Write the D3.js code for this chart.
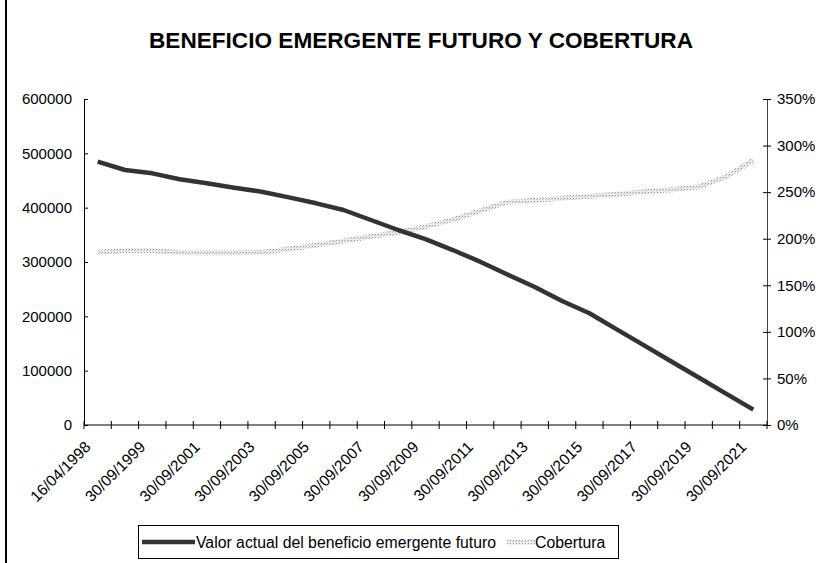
<!DOCTYPE html>
<meta charset="utf-8">
<style>
  body { margin: 0; background: #fff; }
  text { font-family: "Liberation Sans", Arial, sans-serif; fill: #000; }
</style>
<body>
<script src="https://d3js.org/d3.v7.min.js"></script>
<script>

var width = 821,
    height = 563;

// categories: first date, then every 30/09 until 2021
var categories = ["16/04/1998", "30/09/1998", "30/09/1999", "30/09/2000", "30/09/2001",
  "30/09/2002", "30/09/2003", "30/09/2004", "30/09/2005", "30/09/2006", "30/09/2007",
  "30/09/2008", "30/09/2009", "30/09/2010", "30/09/2011", "30/09/2012", "30/09/2013",
  "30/09/2014", "30/09/2015", "30/09/2016", "30/09/2017", "30/09/2018", "30/09/2019",
  "30/09/2020", "30/09/2021"];

var valorActual = [484600, 469300, 463200, 452200, 444800, 436800, 429400, 419000,
  408000, 395700, 377300, 358900, 342000, 322000, 300600, 277000, 254000, 228200,
  205600, 176100, 146500, 116900, 87400, 57800, 28200];

// cobertura in %
var cobertura = [185.5, 187.3, 187.3, 185.2, 184.8, 184.8, 185.2, 188.9, 193.2, 197.5,
  202.3, 206.9, 213.0, 220.5, 230.0, 239.2, 241.4, 243.5, 245.6, 247.8, 250.5, 252.6,
  255.8, 266.5, 284.5];

var leftTicks = [0, 100000, 200000, 300000, 400000, 500000, 600000];
var rightTicks = [0, 50, 100, 150, 200, 250, 300, 350];

var titleText = "BENEFICIO EMERGENTE FUTURO Y COBERTURA";
var seriesNames = ["Valor actual del beneficio emergente futuro", "Cobertura"];

var plot = {left: 84, right: 767, top: 99, bottom: 425};

var svg = d3.select("body").append("svg")
    .attr("width", width)
    .attr("height", height);

var defs = svg.append("defs");
var pat = defs.append("pattern")
    .attr("id", "dots")
    .attr("patternUnits", "userSpaceOnUse")
    .attr("width", 3)
    .attr("height", 3);
pat.append("rect").attr("width", 3).attr("height", 3).attr("fill", "#ececec");
pat.append("rect").attr("width", 1).attr("height", 1).attr("fill", "#959595");
pat.append("rect").attr("x", 2).attr("y", 1).attr("width", 1).attr("height", 1).attr("fill", "#bdbdbd");

// outer frame (only left edge is inside the picture)
svg.append("line")
    .attr("x1", 6).attr("x2", 6).attr("y1", 0).attr("y2", height)
    .attr("stroke", "#000").attr("stroke-width", 2);

svg.append("text")
    .attr("x", 421).attr("y", 48)
    .attr("text-anchor", "middle")
    .style("font-weight", "bold")
    .style("font-size", "22.6px")
    .text(titleText);

var x = d3.scaleBand()
    .domain(categories)
    .range([plot.left, plot.right])
    .padding(0);

var y = d3.scaleLinear()
    .domain([0, 600000])
    .range([plot.bottom, plot.top]);

var y2 = d3.scaleLinear()
    .domain([0, 350])
    .range([plot.bottom, plot.top]);

// left axis
var gl = svg.append("g").attr("transform", "translate(" + plot.left + ",0)")
    .call(d3.axisLeft(y).tickValues(leftTicks).tickFormat(d3.format("d"))
      .tickSizeInner(4).tickSizeOuter(0).tickPadding(8));
gl.selectAll(".tick line").attr("x2", 4);
gl.select(".domain").attr("stroke", "#000");
gl.selectAll("text").style("font-size", "15px").attr("font-family", null);

// right axis
var gr = svg.append("g").attr("transform", "translate(" + plot.right + ",0)")
    .call(d3.axisRight(y2).tickValues(rightTicks).tickFormat(function(d) { return d + "%"; })
      .tickSizeInner(4).tickSizeOuter(0).tickPadding(6));
gr.selectAll(".tick line").attr("x2", 4).attr("x1", -4);
gr.select(".domain").attr("stroke", "#444");
gr.selectAll("text").style("font-size", "15px").attr("font-family", null);

// bottom axis: tick marks on band edges
var edges = categories.map(function(c) { return x(c); }).concat([plot.right]);
svg.append("line")
    .attr("x1", plot.left).attr("x2", plot.right)
    .attr("y1", plot.bottom).attr("y2", plot.bottom)
    .attr("stroke", "#000");
svg.selectAll(".xtick").data(edges).enter().append("line")
    .attr("class", "xtick")
    .attr("x1", function(d) { return d; }).attr("x2", function(d) { return d; })
    .attr("y1", plot.bottom - 4).attr("y2", plot.bottom + 4)
    .attr("stroke", "#000");

svg.selectAll(".xlab").data(categories.filter(function(c, i) { return i % 2 === 0; }))
  .enter().append("text")
    .attr("class", "xlab")
    .attr("text-anchor", "end")
    .style("font-size", "15.5px")
    .attr("transform", function(d) {
      return "translate(" + (x(d) + x.bandwidth() / 2 - 6) + "," + (plot.bottom + 23) + ") rotate(-45)";
    })
    .text(function(d) { return d; });

var cx = function(d, i) { return x(categories[i]) + x.bandwidth() / 2; };

var lineCob = d3.line().x(cx).y(function(d) { return y2(d); });
var lineVal = d3.line().x(cx).y(function(d) { return y(d); });

svg.append("path")
    .datum(cobertura)
    .attr("d", lineCob)
    .attr("fill", "none")
    .attr("stroke", "url(#dots)")
    .attr("stroke-width", 5);

svg.append("path")
    .datum(valorActual)
    .attr("d", lineVal)
    .attr("fill", "none")
    .attr("stroke", "#333")
    .attr("stroke-width", 4.5)
    .attr("stroke-linejoin", "round");

// legend
var lg = svg.append("g");
lg.append("rect")
    .attr("x", 138.5).attr("y", 525.5)
    .attr("width", 480).attr("height", 33)
    .attr("fill", "#fff").attr("stroke", "#000");
lg.append("line")
    .attr("x1", 142).attr("x2", 195).attr("y1", 542).attr("y2", 542)
    .attr("stroke", "#333").attr("stroke-width", 4.5);
lg.append("text")
    .attr("x", 196).attr("y", 547.5)
    .style("font-size", "15.8px")
    .text(seriesNames[0]);
lg.append("line")
    .attr("x1", 507).attr("x2", 535).attr("y1", 542).attr("y2", 542)
    .attr("stroke", "url(#dots)").attr("stroke-width", 5);
lg.append("text")
    .attr("x", 535).attr("y", 547.5)
    .style("font-size", "15.8px")
    .text(seriesNames[1]);

</script>
